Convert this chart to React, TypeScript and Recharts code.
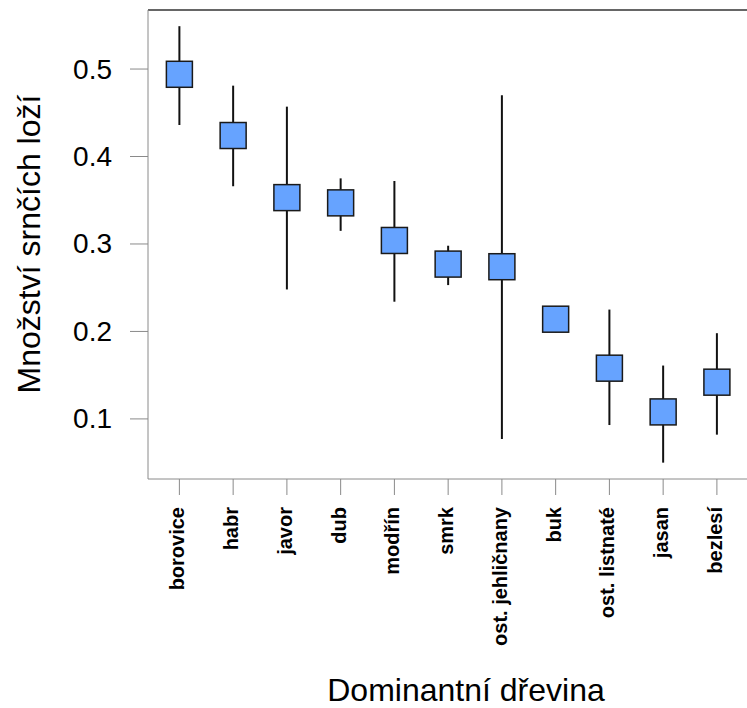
import React from 'react';
import { ScatterChart, Scatter, XAxis, YAxis, ErrorBar, ReferenceLine } from 'recharts';

const categories = ['borovice', 'habr', 'javor', 'dub', 'modřín', 'smrk', 'ost. jehličnany', 'buk', 'ost. listnaté', 'jasan', 'bezlesí'];
const means = [0.494, 0.424, 0.353, 0.347, 0.304, 0.277, 0.274, 0.214, 0.158, 0.108, 0.142];
const lower = [0.436, 0.366, 0.248, 0.315, 0.234, 0.253, 0.077, 0.199, 0.093, 0.050, 0.082];
const upper = [0.549, 0.481, 0.457, 0.375, 0.372, 0.298, 0.470, 0.229, 0.225, 0.161, 0.198];
const yTicks = [0.1, 0.2, 0.3, 0.4, 0.5];

const FONT = '"Liberation Sans", Arial, sans-serif';
const AXIS_GREY = '#8a8a8a';
const X_DOMAIN: [number, number] = [-0.584, 10.56];
const Y_DOMAIN: [number, number] = [0.0313, 0.5675];

const data = categories.map((name, i) => ({
  x: i,
  name,
  y: means[i],
  err: [means[i] - lower[i], upper[i] - means[i]], // asymmetric whiskers
}));

const Square = (props: any) => {
  const { cx, cy } = props;
  if (cx == null || cy == null) return null;
  return <rect x={cx - 13} y={cy - 13} width={26} height={26} fill="#66a3ff" stroke="#1a1a1a" strokeWidth={1.5} />;
};

const XTick = ({ x, y, payload }: any) => {
  const label = categories[payload.value] ?? '';
  const tx = x + 5;
  const ty = 507;
  return (
    <text x={tx} y={ty} transform={`rotate(-90 ${tx} ${ty})`} textAnchor="end" fontFamily={FONT} fontWeight="bold" fontSize={20} fill="#000">
      {label}
    </text>
  );
};

const YTick = ({ y, payload }: any) => (
  <text x={112} y={y} textAnchor="end" dominantBaseline="central" fontFamily={FONT} fontSize={28} fill="#000">
    {payload.value.toFixed(1)}
  </text>
);

export default function App() {
  return (
    <div style={{ position: 'absolute', left: 0, top: 0, width: 747, height: 708, background: '#fff' }}>
      <ScatterChart width={747} height={708} margin={{ top: 10, right: 0, left: 0, bottom: 0 }}>
        <XAxis
          type="number"
          dataKey="x"
          domain={X_DOMAIN}
          allowDataOverflow
          ticks={categories.map((_, i) => i)}
          interval={0}
          height={229}
          tickSize={16}
          stroke={AXIS_GREY}
          tick={<XTick />}
        />
        <YAxis
          type="number"
          dataKey="y"
          domain={Y_DOMAIN}
          allowDataOverflow
          ticks={yTicks}
          width={148}
          tickSize={18}
          stroke={AXIS_GREY}
          tick={<YTick />}
        />
        <ReferenceLine y={Y_DOMAIN[1]} stroke="#333" strokeWidth={1.5} />
        <Scatter data={data} shape={<Square />} isAnimationActive={false}>
          <ErrorBar dataKey="err" direction="y" width={0} stroke="#111" strokeWidth={2} />
        </Scatter>
        <text x={40} y={244} transform="rotate(-90 40 244)" textAnchor="middle" fontFamily={FONT} fontSize={32} fill="#000">
          Množství srnčích loží
        </text>
        <text x={466} y={701} textAnchor="middle" fontFamily={FONT} fontSize={32} fill="#000">
          Dominantní dřevina
        </text>
      </ScatterChart>
    </div>
  );
}
